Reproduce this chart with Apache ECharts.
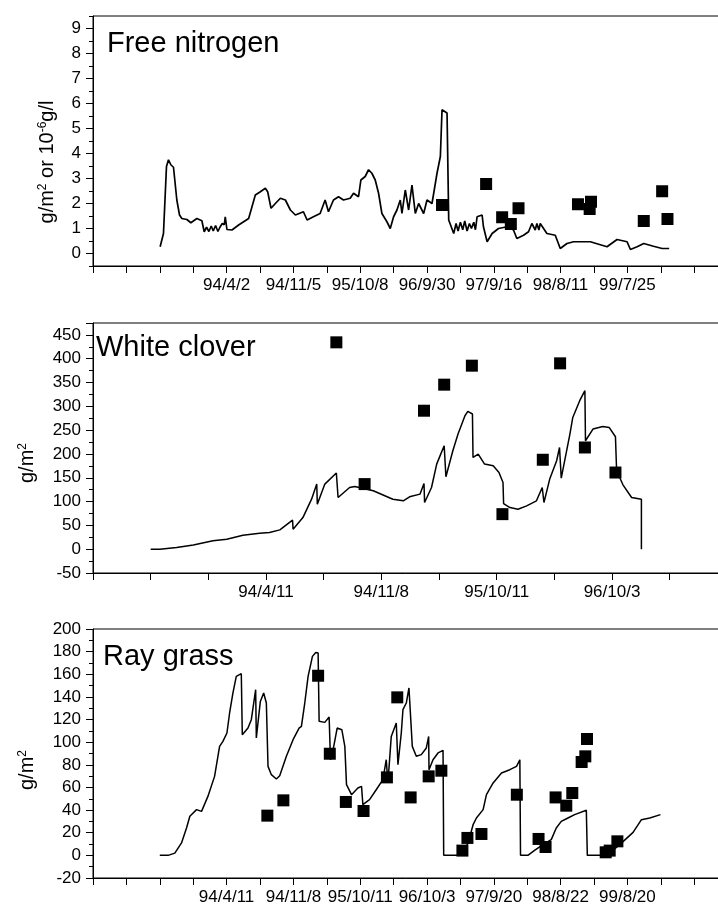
<!DOCTYPE html>
<html>
<head>
<meta charset="utf-8">
<script src="https://cdn.jsdelivr.net/npm/echarts@6/dist/echarts.min.js"></script>
<style>
    html, body { margin: 0; padding: 0; background: #fff; }
    #chart { width: 718px; height: 905px; }
</style>
</head>
<body>
<div id="chart"></div>
<script>
// x values are in axis tick units (the original axis is a day count with date labels)
const nitrogenLine = [
    [2.01, 0.27], [2.11, 0.8], [2.2, 3.48], [2.26, 3.75], [2.33, 3.55], [2.41, 3.45], [2.51, 2.14],
    [2.59, 1.54], [2.66, 1.4], [2.81, 1.36], [2.93, 1.23], [3.11, 1.4], [3.26, 1.31], [3.33, 0.87],
    [3.4, 1.05], [3.47, 0.88], [3.54, 1.1], [3.6, 0.9], [3.67, 1.12], [3.74, 0.88], [3.8, 1.05],
    [3.87, 1.2], [3.93, 1.15], [3.96, 1.47], [4.01, 0.96], [4.16, 0.94], [4.36, 1.14], [4.66, 1.4],
    [4.76, 1.87], [4.86, 2.34], [5.01, 2.47], [5.16, 2.61], [5.23, 2.47], [5.33, 1.81], [5.46, 2.0],
    [5.61, 2.21], [5.76, 2.14], [5.91, 1.74], [6.06, 1.54], [6.3, 1.67], [6.41, 1.34], [6.6, 1.47],
    [6.8, 1.6], [6.95, 2.14], [7.05, 1.67], [7.2, 2.14], [7.35, 2.27], [7.5, 2.14], [7.7, 2.21],
    [7.8, 2.41], [7.95, 2.27], [8.02, 2.94], [8.15, 3.08], [8.25, 3.35], [8.35, 3.21], [8.45, 2.94],
    [8.55, 2.41], [8.65, 1.6], [8.8, 1.27], [8.9, 1.0], [9.0, 1.47], [9.1, 1.74], [9.2, 2.14],
    [9.25, 1.6], [9.35, 2.54], [9.45, 1.74], [9.55, 2.74], [9.65, 1.6], [9.75, 2.0], [9.9, 1.6],
    [10.0, 2.14], [10.15, 2.0], [10.3, 3.21], [10.4, 3.88], [10.45, 5.75], [10.6, 5.62], [10.65, 1.34],
    [10.8, 0.8], [10.87, 1.2], [10.93, 0.9], [11.0, 1.25], [11.07, 0.95], [11.13, 1.3], [11.2, 0.9],
    [11.27, 1.2], [11.33, 1.0], [11.4, 1.25], [11.45, 0.95], [11.5, 1.47], [11.65, 1.54], [11.69, 1.07],
    [11.8, 0.47], [11.95, 0.8], [12.14, 1.0], [12.4, 1.07], [12.59, 0.94], [12.69, 0.6], [12.89, 0.73],
    [13.04, 0.87], [13.14, 1.2], [13.24, 0.94], [13.29, 1.2], [13.35, 0.94], [13.39, 1.2], [13.59, 0.8],
    [13.84, 0.73], [13.99, 0.2], [14.19, 0.4], [14.39, 0.47], [14.89, 0.47], [15.39, 0.27], [15.69, 0.56],
    [15.99, 0.47], [16.09, 0.16], [16.29, 0.27], [16.49, 0.4], [16.78, 0.29], [17.04, 0.2], [17.25, 0.2]
];
const nitrogenObs = [
    [10.45, 1.94], [11.77, 2.78], [12.25, 1.45], [12.51, 1.18], [12.74, 1.81], [14.52, 1.97],
    [14.91, 2.07], [14.87, 1.78], [16.49, 1.3], [17.04, 2.49], [17.2, 1.38]
];
const nitrogenTicks = [4, 6, 8, 10, 12, 14, 16];
const nitrogenLabels = ['94/4/2', '94/11/5', '95/10/8', '96/9/30', '97/9/16', '98/8/11', '99/7/25'];
const nitrogenYTicks = [0, 1, 2, 3, 4, 5, 6, 7, 8, 9];

const cloverLine = [
    [1.0, 0], [1.16, 0], [1.45, 3.4], [1.74, 9], [2.08, 17.5], [2.32, 21], [2.6, 29.4], [2.89, 33.6],
    [3.06, 35], [3.24, 40.6], [3.46, 61], [3.47, 42], [3.64, 66.4], [3.79, 105], [3.88, 136.7],
    [3.89, 94.6], [4.02, 136.7], [4.22, 160], [4.25, 108.5], [4.45, 129.5], [4.54, 131.6], [4.86, 122.6],
    [5.2, 105], [5.38, 101.6], [5.49, 110], [5.67, 115.6], [5.74, 138], [5.75, 98], [5.87, 129.5],
    [5.96, 178.7], [6.03, 199.7], [6.09, 217.2], [6.12, 152], [6.24, 206.7], [6.33, 241.8], [6.45, 280.3],
    [6.5, 289.3], [6.58, 283.9], [6.59, 192.6], [6.68, 199.7], [6.79, 178.7], [6.94, 175.1], [7.04, 161],
    [7.11, 140], [7.12, 95.9], [7.23, 87.5], [7.37, 84], [7.52, 91], [7.69, 101.6], [7.79, 129.5],
    [7.82, 98], [7.92, 147.2], [8.04, 185.7], [8.09, 213.6], [8.12, 149.3], [8.27, 241.8], [8.32, 276.7],
    [8.44, 311.8], [8.53, 332.8], [8.54, 227.7], [8.67, 252.3], [8.84, 257.8], [8.95, 255.7], [9.06, 236.1],
    [9.08, 164.6], [9.19, 135.2], [9.34, 108.5], [9.51, 105.1], [9.51, 0]
];
const cloverObs = [
    [4.22, 434.4], [4.71, 136.7], [5.74, 290.8], [6.09, 345.5], [6.57, 385.4], [7.1, 73.6],
    [7.8, 187.8], [8.1, 390.3], [8.53, 213.6], [9.06, 161]
];
const cloverTicks = [3, 5, 7, 9];
const cloverLabels = ['94/4/11', '94/11/8', '95/10/11', '96/10/3'];

const grassLine = [
    [2.0, 0], [2.25, 0], [2.45, 2], [2.65, 11], [2.8, 24.2], [2.9, 34.5], [3.1, 40.4], [3.25, 38.9],
    [3.44, 52.1], [3.64, 69.8], [3.79, 96.3], [3.89, 100.7], [4.01, 108.1], [4.09, 125.8], [4.19, 143.5],
    [4.29, 158.1], [4.44, 160.5], [4.47, 106.6], [4.64, 112.5], [4.74, 119.9], [4.87, 146.4], [4.89, 103.7],
    [5.01, 136], [5.11, 143.5], [5.19, 134.6], [5.24, 78.6], [5.34, 71.3], [5.49, 67.5], [5.59, 70.4],
    [5.79, 87.5], [5.99, 102.2], [6.17, 112.5], [6.24, 114], [6.34, 134.6], [6.44, 158.1], [6.57, 175.8],
    [6.67, 179.3], [6.74, 178.8], [6.77, 118.4], [6.94, 117.5], [7.07, 122.3], [7.11, 84.5], [7.19, 93.4],
    [7.31, 112.5], [7.45, 111], [7.54, 96.3], [7.59, 62.5], [7.74, 53.6], [7.93, 59.5], [8.04, 61],
    [8.08, 44.8], [8.28, 49.2], [8.48, 58], [8.68, 66.9], [8.78, 84.5], [8.83, 64], [8.93, 105.1],
    [9.08, 117], [9.13, 80.1], [9.23, 108.1], [9.28, 128.7], [9.38, 134.6], [9.46, 147.9], [9.5, 146.4],
    [9.56, 96.3], [9.68, 87.5], [9.83, 89], [9.98, 94.9], [10.05, 105.1], [10.06, 75.7], [10.18, 84.5],
    [10.33, 90.5], [10.48, 92.8], [10.5, 0], [10.88, 0], [11.08, 2.1], [11.23, 11], [11.38, 27.1],
    [11.48, 33], [11.68, 40.4], [11.78, 53.6], [11.98, 64], [12.23, 72.8], [12.48, 75.7], [12.68, 78.6],
    [12.78, 84.5], [12.8, 0], [13.02, 0], [13.22, 4.4], [13.47, 9.5], [13.72, 13.9], [13.87, 24.2],
    [14.02, 30], [14.22, 33], [14.42, 36], [14.77, 39.8], [14.8, 0], [15.17, 0], [15.47, 2.1],
    [15.77, 9.5], [16.17, 20.3], [16.42, 31.5], [16.67, 33], [16.99, 36]
];
const grassObs = [
    [5.22, 35.1], [5.7, 48.6], [6.74, 158.7], [7.09, 89.8], [7.57, 47.2], [8.1, 39.2], [8.8, 68.9],
    [9.11, 139.6], [9.51, 51.2], [10.05, 69.8], [10.43, 74.8], [11.06, 4.2], [11.21, 15.4],
    [11.63, 18.9], [12.69, 53.6], [13.34, 14.5], [13.55, 7.4], [13.85, 51.2], [14.17, 43.9],
    [14.35, 55.1], [14.63, 82.5], [14.74, 87.5], [14.79, 102.8], [15.35, 2.7], [15.47, 4.2], [15.7, 12.4]
];
const grassTicks = [4, 6, 8, 10, 12, 14, 16];
const grassLabels = ['94/4/11', '94/11/8', '95/10/11', '96/10/3', '97/9/20', '98/8/22', '99/8/20'];

const FONT = '"Liberation Sans", Arial, sans-serif';
const chart = echarts.init(document.getElementById('chart'), null, { renderer: 'canvas' });

const labelStyle = { fontSize: 17, fontFamily: FONT, color: '#000' };

const makeX = (idx, max, ticks, labels) => ({
    type: 'value',
    gridIndex: idx,
    min: 0,
    max: max,
    interval: 1,
    axisLine: { onZero: false, lineStyle: { color: '#000', width: 1 } },
    axisTick: { length: 7, lineStyle: { color: '#000' } },
    splitLine: { show: false },
    axisLabel: {
        ...labelStyle,
        margin: 11,
        showMinLabel: true,
        showMaxLabel: true,
        hideOverlap: false,
        formatter: v => {
            const i = ticks.indexOf(Math.round(v));
            return (i >= 0 && Math.abs(v - Math.round(v)) < 1e-6) ? labels[i] : '';
        }
    }
});

const makeY = (idx, min, max, interval) => ({
    type: 'value',
    gridIndex: idx,
    min: min,
    max: max,
    interval: interval,
    axisLine: { show: true, onZero: false, lineStyle: { color: '#000', width: 1 } },
    axisTick: { show: true, length: 7, lineStyle: { color: '#000' } },
    minorTick: { show: true, splitNumber: 2, length: 4, lineStyle: { color: '#000' } },
    splitLine: { show: false },
    axisLabel: {
        ...labelStyle,
        margin: 12,
        formatter: v => {
            const k = v / interval;
            return Math.abs(k - Math.round(k)) < 1e-6 ? String(Math.round(v)) : '';
        }
    }
});

// first panel: axis runs from -0.5, so half steps carry the short ticks
// and a second axis on the same line carries the integer ticks and labels
const nitrogenMinorY = {
    type: 'value',
    gridIndex: 0,
    min: -0.5,
    max: 9.5,
    interval: 0.5,
    axisLine: { show: true, onZero: false, lineStyle: { color: '#000', width: 1 } },
    axisTick: { show: true, length: 4, lineStyle: { color: '#000' } },
    axisLabel: { show: false },
    splitLine: { show: false }
};
const nitrogenMajorY = {
    type: 'value',
    gridIndex: 0,
    position: 'left',
    offset: 0,
    min: -0.5,
    max: 9.5,
    interval: 0.5,
    axisLine: { show: false },
    axisTick: { show: true, length: 7, customValues: nitrogenYTicks, lineStyle: { color: '#000' } },
    axisLabel: { ...labelStyle, margin: 12, customValues: nitrogenYTicks },
    splitLine: { show: false }
};

const lineSeries = (xi, yi, data, width) => ({
    type: 'line',
    xAxisIndex: xi,
    yAxisIndex: yi,
    data: data,
    showSymbol: false,
    symbol: 'none',
    lineStyle: { color: '#000', width: width },
    animation: false
});

const obsSeries = (xi, yi, data) => ({
    type: 'scatter',
    xAxisIndex: xi,
    yAxisIndex: yi,
    data: data,
    symbol: 'rect',
    symbolSize: 12,
    itemStyle: { color: '#000', opacity: 1 },
    animation: false
});

const yName = (x, y, parts) => ({
    type: 'text',
    x: x,
    y: y,
    rotation: Math.PI / 2,
    style: {
        text: parts,
        font: '20px ' + FONT,
        fill: '#000',
        align: 'center',
        verticalAlign: 'middle',
        rich: {
            sup: { fontSize: 12, fontFamily: FONT, fill: '#000', verticalAlign: 'top', padding: [0, 0, 9, 0] },
            n: { fontSize: 20, fontFamily: FONT, fill: '#000' }
        }
    }
});

const titleText = (x, y, s) => ({
    type: 'text',
    x: x,
    y: y,
    style: { text: s, font: '29px ' + FONT, fill: '#000', verticalAlign: 'bottom' }
});

const gridBase = { left: 93, show: true, borderColor: '#000', borderWidth: 1, outerBoundsMode: 'none', containLabel: false };

const option = {
    backgroundColor: '#fff',
    animation: false,
    grid: [
        { ...gridBase, top: 16, width: 668, height: 250 },
        { ...gridBase, top: 323, width: 692, height: 250 },
        { ...gridBase, top: 629, width: 668, height: 249 }
    ],
    xAxis: [
        makeX(0, 20, nitrogenTicks, nitrogenLabels),
        makeX(1, 12, cloverTicks, cloverLabels),
        makeX(2, 20, grassTicks, grassLabels)
    ],
    yAxis: [
        nitrogenMinorY,
        makeY(1, -50, 475, 50),
        makeY(2, -20, 200, 20),
        nitrogenMajorY
    ],
    series: [
        lineSeries(0, 0, nitrogenLine, 1.7),
        obsSeries(0, 0, nitrogenObs),
        lineSeries(1, 1, cloverLine, 1.5),
        obsSeries(1, 1, cloverObs),
        lineSeries(2, 2, grassLine, 1.5),
        obsSeries(2, 2, grassObs)
    ],
    graphic: [
        titleText(107, 58, 'Free nitrogen'),
        titleText(96, 362, 'White clover'),
        titleText(103, 671, 'Ray grass'),
        yName(47, 162, '{n|g/m}{sup|2}{n| or 10}{sup|-6}{n|g/l}'),
        yName(27, 463, '{n|g/m}{sup|2}'),
        yName(27, 770, '{n|g/m}{sup|2}')
    ]
};

chart.setOption(option);
</script>
</body>
</html>
